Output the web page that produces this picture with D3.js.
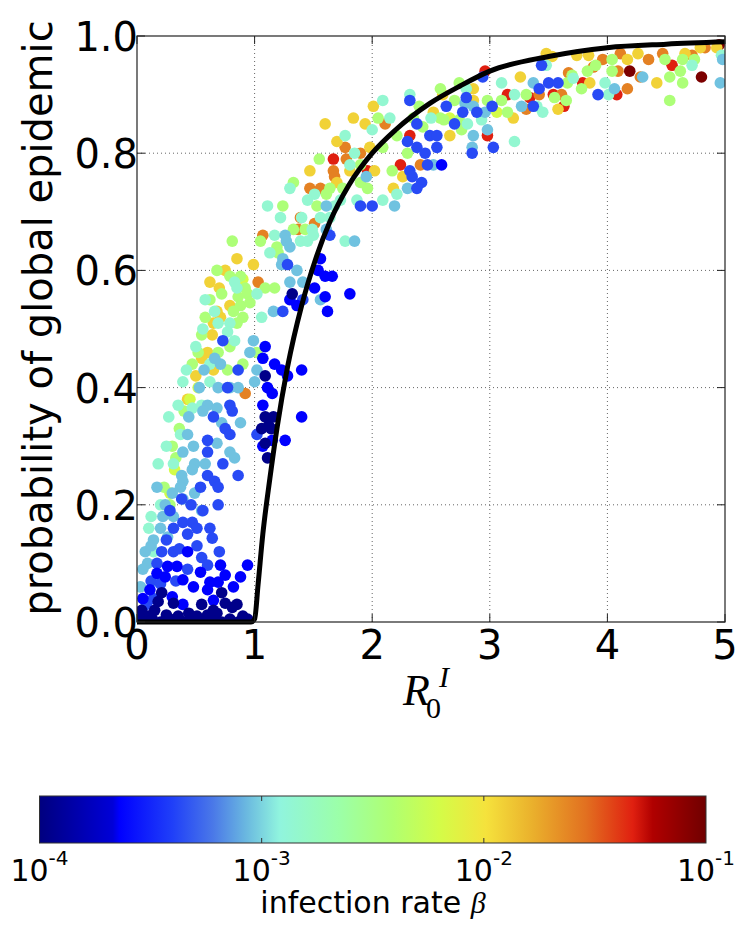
<!DOCTYPE html>
<html>
<head>
<meta charset="utf-8">
<script src="https://cdn.jsdelivr.net/npm/d3@7/dist/d3.min.js"></script>
<style>
  body { margin: 0; background: #fff; }
  text { font-family: "DejaVu Sans", sans-serif; fill: #000; }
</style>
</head>
<body>
<svg id="chart" width="747" height="928"></svg>
<script>
// ticks
const xTicks = [0, 1, 2, 3, 4, 5];
const yTicks = [0, 0.2, 0.4, 0.6, 0.8, 1.0];
const betaTicks = [1e-4, 1e-3, 1e-2, 1e-1];
const betaExp = ["-4", "-3", "-2", "-1"];

// infection rate of each colour group
const betaLevels = [1.1e-4, 2.3e-4, 4.3e-4, 9e-4, 1.4e-3, 3.6e-3, 6.3e-3, 1.2e-2, 2.5e-2, 4.7e-2, 9e-2];

// [R0, probability] per group
const level0 = [[1.09,0.42],[1.09,0.35],[1.16,0.35],[1.06,0.33],[1.12,0.335],[1.11,0.28],[1.09,0.305],[1.14,0.33],
  [1.32,0.56],[0.72,0.05],[0.21,0.05],[0.31,0.032],[0.75,0.032],[0.85,0.03],[0.04,0.02],[0.15,0.02],[0.51,0.01],
  [0.81,0.025],[0.10,0.01],[0.25,0.012],[0.35,0.01],[0.44,0.015],[0.60,0.012],[0.68,0.015],[0.90,0.01],[0.94,0.005],
  [0.03,0.005],[0.08,0.0],[0.13,0.005],[0.20,0.0],[0.28,0.005],[0.40,0.0],[0.47,0.005],[0.56,0.0],[0.64,0.005],
  [0.72,0.0],[0.79,0.005],[0.86,0.0],[0.55,0.03],[0.18,0.035],[0.65,0.02]];
const level1 = [[1.09,0.47],[1.07,0.45],[1.17,0.44],[1.23,0.43],[1.28,0.42],[1.40,0.43],[1.11,0.40],[1.15,0.39],
  [1.07,0.37],[1.40,0.35],[1.07,0.30],[1.15,0.31],[1.26,0.31],[0.26,0.095],[0.34,0.095],[0.71,0.097],[0.94,0.097],
  [0.24,0.077],[0.39,0.072],[0.62,0.068],[0.69,0.068],[0.88,0.077],[0.48,0.06],[0.60,0.055],[0.30,0.043],[0.39,0.03],
  [0.65,0.037],[0.11,0.055],[1.81,0.56],[1.60,0.555],[1.62,0.53],[1.60,0.59],[1.66,0.59],[1.56,0.62],[1.54,0.60],
  [1.36,0.54],[1.30,0.55],[2.59,0.78],[1.51,0.57],[0.17,0.083],[0.54,0.085],[0.43,0.12],[0.05,0.04],[0.75,0.08],[0.82,0.06]];
const level2 = [[2.32,0.89],[2.38,0.85],[2.30,0.82],[2.38,0.81],[2.45,0.80],[2.32,0.77],[2.34,0.76],[2.47,0.78],
  [2.42,0.75],[2.38,0.74],[2.00,0.71],[1.90,0.71],[1.64,0.66],[1.28,0.61],[1.24,0.53],[2.49,0.83],[2.55,0.83],
  [2.55,0.81],[2.63,0.88],[2.70,0.85],[2.77,0.87],[2.80,0.895],[2.89,0.87],[2.85,0.80],[2.94,0.93],[3.02,0.88],
  [3.03,0.81],[3.37,0.88],[3.42,0.91],[3.50,0.92],[3.44,0.95],[3.58,0.92],[3.92,0.90],[1.41,0.55],
  [0.73,0.48],[0.86,0.43],[0.77,0.40],[0.79,0.37],[0.81,0.36],[0.65,0.35],[0.75,0.33],[0.79,0.32],[1.02,0.32],
  [0.60,0.31],[0.60,0.29],[0.73,0.27],[0.60,0.25],[0.86,0.25],[0.54,0.23],[0.66,0.24],[0.69,0.23],[0.69,0.20],
  [0.28,0.19],[0.39,0.17],[0.47,0.17],[0.31,0.16],[0.62,0.16],[0.51,0.16],[0.43,0.15],[0.64,0.143],[0.51,0.13],
  [0.21,0.12],[0.31,0.12],[0.36,0.125],[0.55,0.11],[0.17,0.10],[0.60,0.097],[0.12,0.07],[0.20,0.065],[0.08,0.03],[0.43,0.09],
  [0.38,0.21],[0.25,0.14],[0.46,0.20],[0.56,0.19],[0.33,0.07],[0.14,0.04],[0.70,0.12]];
const level3 = [[2.30,0.74],[2.19,0.71],[1.61,0.71],[1.61,0.67],[1.26,0.66],[1.27,0.65],[1.30,0.64],[1.85,0.65],
  [1.24,0.62],[1.36,0.60],[1.23,0.61],[1.41,0.58],[1.30,0.58],[1.56,0.55],[1.16,0.53],[2.52,0.78],[2.79,0.885],
  [2.86,0.88],[2.86,0.83],[2.85,0.81],[2.96,0.87],[2.98,0.84],[3.27,0.88],[3.37,0.92],[4.06,0.91],[4.30,0.93],
  [4.96,0.92],[4.98,0.96],
  [0.99,0.48],[0.96,0.46],[0.71,0.44],[1.02,0.43],[0.69,0.40],[0.79,0.40],[0.86,0.40],[1.00,0.41],[0.60,0.37],
  [0.68,0.365],[0.56,0.36],[0.72,0.34],[0.88,0.34],[0.43,0.32],[0.68,0.305],[0.48,0.30],[0.39,0.29],[0.79,0.29],
  [0.83,0.28],[0.49,0.27],[0.58,0.27],[0.38,0.25],[0.47,0.26],[0.39,0.24],[0.17,0.23],[0.37,0.23],[0.49,0.22],
  [0.39,0.21],[0.55,0.19],[0.22,0.18],[0.31,0.18],[0.20,0.16],[0.26,0.145],[0.09,0.10],[0.05,0.09],[0.14,0.14],
  [0.03,0.06],[0.07,0.12],[0.24,0.20],
  [0.44,0.35],[0.53,0.40],[0.57,0.43],[0.30,0.22],[0.12,0.13],[0.15,0.07],[0.66,0.45],[1.95,0.76]];
const level4 = [[2.32,0.90],[2.09,0.89],[2.15,0.86],[1.77,0.83],[2.21,0.73],[2.09,0.72],[1.87,0.72],[1.81,0.78],
  [1.30,0.74],[1.51,0.73],[1.73,0.72],[1.68,0.71],[1.45,0.72],[1.11,0.71],[1.22,0.69],[1.40,0.69],[1.56,0.69],
  [1.64,0.69],[1.49,0.67],[1.17,0.66],[1.39,0.65],[1.45,0.65],[1.50,0.66],[1.77,0.65],[1.13,0.63],[0.83,0.58],
  [0.85,0.57],[1.02,0.56],[1.06,0.52],[2.80,0.91],[2.81,0.85],[2.93,0.857],[3.21,0.90],[3.40,0.88],[3.45,0.87],
  [3.48,0.95],[3.71,0.928],[3.98,0.92],[4.01,0.90],[4.72,0.95],[4.97,0.967],[3.21,0.82],
  [0.69,0.51],[0.79,0.51],[0.77,0.495],[0.83,0.48],[0.62,0.44],[0.39,0.41],[0.62,0.41],[0.47,0.365],[0.55,0.37],
  [0.37,0.32],[0.31,0.27],[0.14,0.12],[0.10,0.16],[0.18,0.27],[0.27,0.35],
  [0.42,0.43],[0.50,0.47],[0.56,0.50],[0.35,0.37],[0.25,0.30],[0.66,0.53],[1.85,0.80],[2.50,0.86],[2.00,0.84],
  [0.20,0.20],[0.12,0.18],[3.10,0.92],[0.58,0.55]];
const level5 = [[2.35,0.86],[2.43,0.845],[2.21,0.83],[2.09,0.81],[2.30,0.80],[2.17,0.77],[1.96,0.74],[1.90,0.75],
  [1.90,0.78],[1.33,0.75],[1.61,0.73],[1.64,0.74],[1.75,0.74],[1.53,0.71],[1.24,0.71],[1.43,0.67],[1.33,0.67],
  [1.05,0.65],[0.81,0.65],[1.19,0.64],[1.20,0.63],[0.79,0.59],[0.88,0.59],[1.09,0.57],[1.17,0.57],[0.92,0.57],
  [0.94,0.56],[0.86,0.555],[0.88,0.54],[0.96,0.545],[0.82,0.53],[0.90,0.52],[2.58,0.91],[2.58,0.86],[2.61,0.857],
  [2.74,0.857],[2.76,0.84],[2.74,0.92],[2.98,0.89],[3.10,0.89],[3.15,0.87],[3.31,0.90],[3.55,0.895],[3.65,0.89],
  [3.66,0.92],[3.70,0.933],[3.83,0.94],[3.78,0.91],[4.04,0.96],[4.04,0.94],[4.49,0.96],[4.53,0.93],[4.53,0.89],
  [4.64,0.92],[4.62,0.94],[4.64,0.96],[4.74,0.96],
  [0.85,0.51],[0.69,0.46],[0.79,0.47],[0.90,0.44],[0.47,0.44],[1.02,0.46],[0.77,0.43],[0.30,0.30],[0.28,0.20],
  [0.23,0.23],[0.33,0.28],
  [0.52,0.46],[0.58,0.52],[0.72,0.56],[0.62,0.55],[0.40,0.36],[0.36,0.33],[2.05,0.86],[2.40,0.88],[1.55,0.79],
  [2.70,0.89],[0.68,0.60],[0.55,0.49],[3.90,0.95]];
const level6 = [[0.52,0.40],[0.32,0.26],[0.45,0.38],[3.06,0.87],[0.28,0.22],[0.90,0.585],[2.66,0.86]];
const level7 = [[2.01,0.88],[1.84,0.86],[1.60,0.85],[1.94,0.85],[1.98,0.81],[2.02,0.77],[2.26,0.76],[2.18,0.74],
  [1.81,0.77],[1.70,0.75],[1.47,0.77],[0.99,0.61],[0.79,0.54],[0.71,0.52],[2.52,0.87],[2.66,0.83],[2.86,0.91],
  [2.86,0.89],[3.20,0.86],[3.26,0.93],[3.48,0.97],[3.53,0.965],[3.58,0.875],[3.74,0.967],[3.84,0.967],[3.85,0.92],
  [4.17,0.96],[4.26,0.97],[4.42,0.92],[4.66,0.97],[4.79,0.98],[4.93,0.98],
  [0.65,0.51],[0.64,0.49],[0.60,0.46],[0.65,0.43],[0.43,0.38],[0.75,0.60],[0.70,0.57],
  [0.55,0.45],[0.50,0.42],[0.62,0.58],[0.68,0.53],[2.60,0.90],[1.70,0.82],[0.85,0.62]];
const level8 = [[2.11,0.85],[1.77,0.81],[1.90,0.80],[1.78,0.79],[2.41,0.78],[1.67,0.77],[1.68,0.76],[1.47,0.74],
  [1.56,0.74],[1.39,0.69],[1.51,0.68],[1.37,0.67],[1.07,0.66],[1.03,0.58],[0.92,0.39],[3.31,0.875],[3.42,0.90],
  [3.61,0.90],[3.67,0.937],[3.88,0.947],[3.96,0.96],[4.09,0.94],[4.11,0.97],[4.17,0.91],[4.28,0.93],[4.35,0.96],
  [4.47,0.97],[4.72,0.967],[4.83,0.98]];
const level9 = [[2.32,0.83],[1.67,0.79],[1.96,0.77],[2.24,0.78],[2.98,0.83],[2.96,0.94],[3.15,0.90],[3.34,0.895],
  [3.54,0.90],[3.63,0.88],[3.79,0.92],[4.08,0.90],[4.55,0.95]];
const level10 = [[4.19,0.94],[4.80,0.93],[4.95,0.985]];

// black theory curve
const curveR0 = [0, 0.97, 1.0, 1.03, 1.07, 1.13, 1.19, 1.28, 1.4, 1.52, 1.64, 1.8, 2.0, 2.2, 2.49, 2.75, 3.0, 3.5, 4.0, 4.5, 5.0];
const curveP  = [0, 0, 0.005, 0.065, 0.15, 0.245, 0.33, 0.435, 0.54, 0.62, 0.683, 0.745, 0.8, 0.84, 0.885, 0.915, 0.94, 0.965, 0.98, 0.986, 0.99];

// colormap as it appears on the colorbar
const jetPos = [0, 0.11, 0.12, 0.2, 0.26, 0.31, 0.36, 0.45, 0.53, 0.6, 0.67, 0.74, 0.82, 0.89, 0.92, 1];
const jetColors = ["#00007f", "#0000d8", "#0000ff", "#2040f8", "#4a78e8", "#6ab8e0", "#90f4de", "#9cffa8",
  "#b0ff70", "#d4fc48", "#f5e23c", "#eab02c", "#e27020", "#e02010", "#b00000", "#700000"];

const svg = d3.select("#chart");

const x = d3.scaleLinear().domain([0, 5]).range([137, 725]);
const y = d3.scaleLinear().domain([0, 1]).range([622, 36]);
const betaT = d3.scaleLog().domain([1e-4, 1e-1]).range([0, 1]);
const color = d3.scaleLinear().domain(jetPos).range(jetColors).interpolate(d3.interpolateRgb);
const cbX = d3.scaleLog().domain([1e-4, 1e-1]).range([39.5, 706]);

svg.append("clipPath").attr("id", "plotclip")
  .append("rect").attr("x", 137).attr("y", 36).attr("width", 588).attr("height", 586);

// grid
const grid = svg.append("g").attr("stroke", "#666").attr("stroke-dasharray", "1,3").attr("stroke-width", 1);
grid.selectAll(".gx").data(xTicks.slice(1, -1)).join("line")
  .attr("x1", d => x(d)).attr("x2", d => x(d)).attr("y1", y(0)).attr("y2", y(1));
grid.selectAll(".gy").data(yTicks.slice(1, -1)).join("line")
  .attr("y1", d => y(d)).attr("y2", d => y(d)).attr("x1", x(0)).attr("x2", x(5));

// points, high beta drawn first so the dark blue ones sit on top near zero
const levels = [level0, level1, level2, level3, level4, level5, level6, level7, level8, level9, level10];
const allPts = [];
for (let lvl = levels.length - 1; lvl >= 0; lvl--) {
  levels[lvl].forEach(p => allPts.push({ r0: p[0], p: p[1], beta: betaLevels[lvl] }));
}

svg.append("g").attr("clip-path", "url(#plotclip)")
  .selectAll("circle").data(allPts).join("circle")
    .attr("cx", d => x(d.r0))
    .attr("cy", d => y(d.p))
    .attr("r", 5.8)
    .attr("fill", d => color(betaT(d.beta)));

// curve
const line = d3.line().x(d => x(d[0])).y(d => y(d[1])).curve(d3.curveMonotoneX);
svg.append("path")
  .datum(curveR0.map((v, i) => [v, curveP[i]]))
  .attr("d", line)
  .attr("fill", "none")
  .attr("stroke", "#000")
  .attr("stroke-width", 5)
  .attr("stroke-linejoin", "round");

// frame + inward ticks
svg.append("rect").attr("x", 137).attr("y", 36).attr("width", 588).attr("height", 586)
  .attr("fill", "none").attr("stroke", "#222").attr("stroke-width", 1.2);
const tk = svg.append("g").attr("stroke", "#222").attr("stroke-width", 1);
xTicks.forEach(t => {
  tk.append("line").attr("x1", x(t)).attr("x2", x(t)).attr("y1", y(0)).attr("y2", y(0) - 8);
  tk.append("line").attr("x1", x(t)).attr("x2", x(t)).attr("y1", y(1)).attr("y2", y(1) + 8);
});
yTicks.forEach(t => {
  tk.append("line").attr("y1", y(t)).attr("y2", y(t)).attr("x1", x(0)).attr("x2", x(0) + 8);
  tk.append("line").attr("y1", y(t)).attr("y2", y(t)).attr("x1", x(5)).attr("x2", x(5) - 8);
});

// tick labels
svg.selectAll(".xt").data(xTicks).join("text")
  .attr("x", d => x(d)).attr("y", 659)
  .attr("text-anchor", "middle").attr("font-size", 40)
  .text(d => d);
svg.selectAll(".yt").data(yTicks).join("text")
  .attr("x", 138).attr("y", d => y(d) + 15)
  .attr("text-anchor", "end").attr("font-size", 40)
  .text(d => d.toFixed(1));

// axis labels
svg.append("text")
  .attr("transform", "translate(52,318) rotate(-90)")
  .attr("text-anchor", "middle").attr("font-size", 40)
  .text("probability of global epidemic");

const serif = '"Liberation Serif", "DejaVu Serif", serif';
svg.append("text").attr("x", 403).attr("y", 705).attr("font-size", 44)
  .style("font-family", serif).style("font-style", "italic").text("R");
svg.append("text").attr("x", 426).attr("y", 718).attr("font-size", 30)
  .style("font-family", serif).text("0");
svg.append("text").attr("x", 439).attr("y", 687).attr("font-size", 30)
  .style("font-family", serif).style("font-style", "italic").text("I");

// colorbar
const grad = svg.append("defs").append("linearGradient").attr("id", "jet")
  .attr("x1", 0).attr("x2", 1).attr("y1", 0).attr("y2", 0);
grad.selectAll("stop").data(jetPos).join("stop")
  .attr("offset", d => d)
  .attr("stop-color", (d, i) => jetColors[i]);

svg.append("rect").attr("x", cbX(1e-4)).attr("y", 796)
  .attr("width", cbX(1e-1) - cbX(1e-4)).attr("height", 47)
  .attr("fill", "url(#jet)").attr("stroke", "#333").attr("stroke-width", 1);

const cbt = svg.append("g").attr("stroke", "#333").attr("stroke-width", 1);
betaTicks.slice(1, -1).forEach(b => {
  cbt.append("line").attr("x1", cbX(b)).attr("x2", cbX(b)).attr("y1", 796).attr("y2", 801);
  cbt.append("line").attr("x1", cbX(b)).attr("x2", cbX(b)).attr("y1", 843).attr("y2", 838);
});

const cbl = svg.selectAll(".cbl").data(betaTicks).join("text")
  .attr("x", d => cbX(d)).attr("y", 881)
  .attr("text-anchor", "middle").attr("font-size", 30);
cbl.append("tspan").text("10");
cbl.append("tspan").attr("dy", -16).attr("font-size", 20).text((d, i) => betaExp[i]);

const lab = svg.append("text").attr("x", 373).attr("y", 913)
  .attr("text-anchor", "middle").attr("font-size", 30);
lab.append("tspan").text("infection rate ");
lab.append("tspan").style("font-family", serif).style("font-style", "italic").text("β");
</script>
</body>
</html>
